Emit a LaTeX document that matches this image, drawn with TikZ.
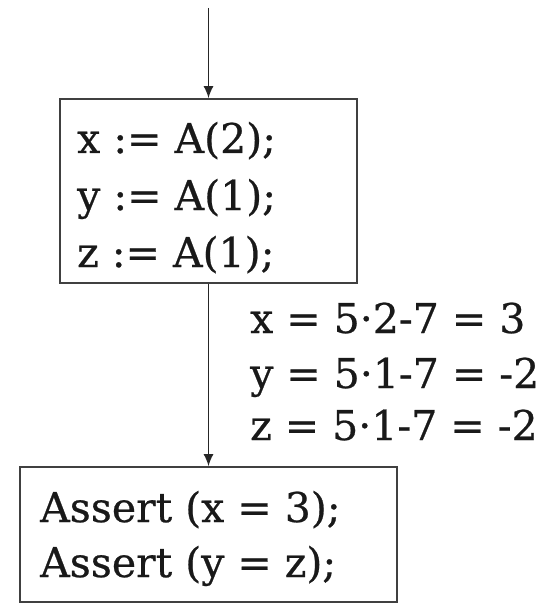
\documentclass[tikz,border=0pt]{standalone}
\usepackage{fontspec}
\setmainfont{DejaVu Serif}[FakeBold=0.6]
\usetikzlibrary{arrows.meta}
\begin{document}
\begin{tikzpicture}[x=1pt,y=1pt,
  blk/.style={draw=black!75, line width=1.8pt, inner sep=0pt},
  txt/.style={anchor=base west, inner sep=0pt, font=\fontsize{41}{45}\selectfont, text=black!90},
  flow/.style={draw=black!85, line width=1.3pt, -{Latex[length=12pt,width=10pt]}}]
\useasboundingbox (0,0) rectangle (547,-604);
\coordinate (start) at (208.5,-8);
\node[blk, minimum width=297pt, minimum height=184pt] (b1) at (208.5,-191) {};
\node[blk, minimum width=377pt, minimum height=135pt] (b2) at (208.5,-534.5) {};
\node[txt] (t1) at (77,-153) {x := A(2);};
\node[txt] (t2) at (77,-210) {y := A(1);};
\node[txt] (t3) at (77,-267) {z := A(1);};
\node[txt] (l1) at (250,-333) {x = 5·2-7 = 3};
\node[txt] (l2) at (250,-388) {y = 5·1-7 = -2};
\node[txt] (l3) at (250,-440) {z = 5·1-7 = -2};
\node[txt] (a1) at (40,-522) {Assert (x = 3);};
\node[txt] (a2) at (40,-577) {Assert (y = z);};
\draw[flow] (start) -- (b1.north);
\draw[flow] (b1.south) -- (b2.north);
\end{tikzpicture}
\end{document}
